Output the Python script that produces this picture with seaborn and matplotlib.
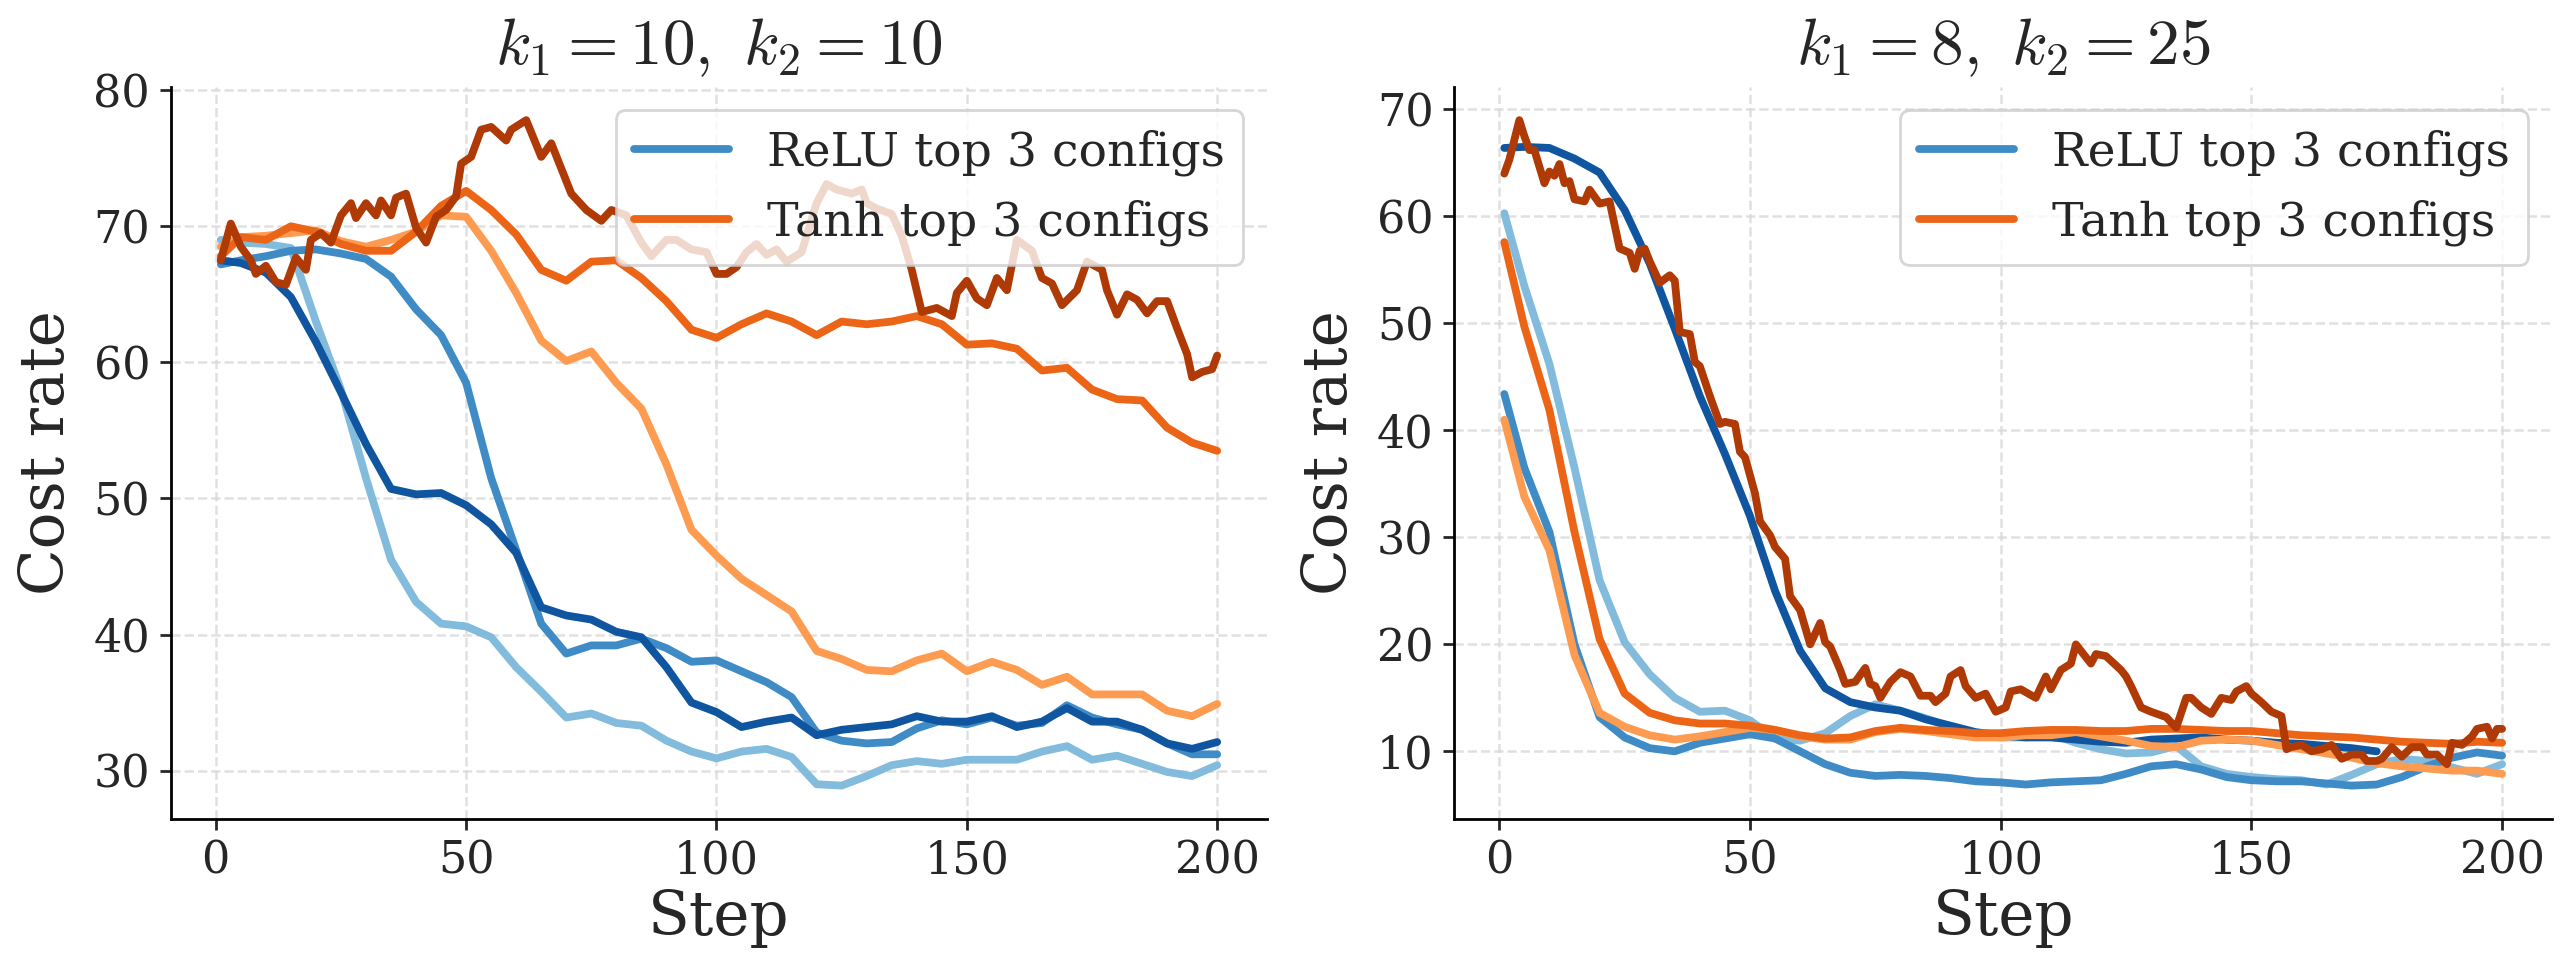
import matplotlib
matplotlib.use("Agg")
import matplotlib.pyplot as plt
from matplotlib.lines import Line2D
import seaborn as sns
import pandas as pd

# ---------------- data ----------------
steps = [1, 5, 10, 15, 20, 25, 30, 35, 40, 45, 50, 55, 60, 65, 70, 75, 80, 85, 90, 95, 100,
         105, 110, 115, 120, 125, 130, 135, 140, 145, 150, 155, 160, 165, 170, 175, 180, 185, 190, 195, 200]

# Panel 1: k1=10, k2=10
p1_relu_light = [69.0, 68.8, 68.7, 68.4, 63.0, 58.0, 51.5, 45.5, 42.4, 40.8, 40.6, 39.8, 37.6, 35.8, 33.9, 34.2, 33.5, 33.3, 32.2, 31.4, 30.9,
                 31.4, 31.6, 31.0, 29.0, 28.9, 29.6, 30.4, 30.7, 30.5, 30.8, 30.8, 30.8, 31.4, 31.8, 30.8, 31.1, 30.5, 29.9, 29.6, 30.4]
p1_relu_mid = [67.2, 67.5, 67.8, 68.2, 68.3, 68.0, 67.6, 66.3, 63.9, 62.0, 58.5, 51.5, 46.2, 40.8, 38.6, 39.2, 39.2, 39.7, 39.0, 38.0, 38.1,
               37.3, 36.5, 35.4, 32.8, 32.2, 32.0, 32.1, 33.1, 33.7, 33.4, 33.9, 33.3, 33.5, 34.8, 33.9, 33.4, 33.0, 32.0, 31.2, 31.2]
p1_relu_dark = [67.5, 67.3, 66.6, 64.8, 61.5, 57.8, 54.0, 50.7, 50.3, 50.4, 49.5, 48.1, 46.0, 42.0, 41.4, 41.1, 40.2, 39.8, 37.6, 35.0, 34.3,
                33.2, 33.6, 33.9, 32.6, 33.0, 33.2, 33.4, 34.0, 33.6, 33.6, 34.0, 33.2, 33.6, 34.6, 33.6, 33.6, 33.0, 32.0, 31.6, 32.1]
p1_tanh_light = [68.5, 69.2, 69.3, 69.5, 69.7, 68.9, 68.5, 69.0, 69.6, 70.8, 70.7, 68.2, 65.1, 61.6, 60.1, 60.8, 58.5, 56.6, 52.5, 47.7, 45.8,
                 44.1, 42.9, 41.7, 38.8, 38.2, 37.4, 37.3, 38.1, 38.6, 37.3, 38.0, 37.4, 36.3, 36.9, 35.6, 35.6, 35.6, 34.4, 34.0, 34.9]
p1_tanh_mid = [67.8, 69.2, 69.0, 70.0, 69.6, 68.7, 68.2, 68.2, 69.6, 71.5, 72.6, 71.2, 69.4, 66.8, 66.0, 67.4, 67.5, 66.2, 64.5, 62.4, 61.8,
               62.8, 63.6, 63.0, 62.0, 63.0, 62.8, 63.0, 63.4, 62.8, 61.3, 61.4, 61.0, 59.4, 59.6, 58.0, 57.3, 57.2, 55.2, 54.1, 53.5]
p1_tanh_dark_steps = [1, 3, 5, 7, 8, 10, 12, 14, 16, 18, 19, 21, 23, 25, 27, 28, 30, 32, 33, 35, 36, 38, 40, 42, 44, 46,
                      48, 49, 51, 53, 55, 58, 59, 62, 65, 67, 71, 74, 77, 79, 82, 85, 87, 90, 92, 95, 98, 100, 102, 104,
                      106, 108, 110, 112, 114, 117, 120, 122, 124, 127, 129, 130, 132, 135, 137, 139, 141, 144, 147, 148,
                      150, 152, 154, 156, 158, 160, 163, 165, 167, 169, 172, 174, 177, 178, 180, 182, 184, 186, 188, 190,
                      192, 194, 195, 197, 199, 200]
p1_tanh_dark = [67.5, 70.2, 68.5, 67.5, 66.5, 67.1, 65.9, 65.7, 67.7, 66.8, 69.0, 69.5, 68.8, 70.8, 71.7, 70.6, 71.7, 70.8, 71.9, 70.8,
                72.1, 72.4, 69.9, 68.8, 70.7, 71.2, 72.2, 74.6, 75.1, 77.1, 77.3, 76.3, 77.1, 77.8, 75.1, 76.1, 72.4, 71.2, 70.4, 71.2,
                70.8, 68.8, 67.8, 69.0, 69.0, 68.3, 68.1, 66.5, 66.5, 67.0, 68.1, 68.7, 67.9, 68.3, 67.4, 68.1, 71.7, 73.1, 72.7, 72.4,
                72.7, 71.7, 71.3, 70.9, 69.3, 66.8, 63.7, 64.0, 63.4, 65.1, 66.0, 64.7, 64.2, 66.2, 65.3, 69.0, 68.2, 66.2, 65.8, 64.2,
                65.3, 67.4, 66.8, 65.3, 63.5, 65.0, 64.6, 63.6, 64.5, 64.5, 62.5, 60.6, 58.9, 59.3, 59.5, 60.5]

# Panel 2: k1=8, k2=25
p2_relu_light = [60.3, 53.5, 46.2, 36.5, 26.0, 20.2, 17.2, 15.0, 13.7, 13.8, 12.9, 11.2, 11.0, 11.7, 13.3, 14.4, 13.8, 13.1, 12.3, 11.6, 11.3,
                 11.3, 11.6, 10.8, 10.2, 9.8, 9.9, 10.5, 8.6, 7.9, 7.6, 7.4, 7.3, 6.9, 7.8, 8.8, 9.3, 9.1, 8.5, 7.9, 8.8]
p2_relu_mid = [43.4, 36.5, 30.5, 20.0, 13.2, 11.3, 10.3, 10.0, 10.8, 11.2, 11.6, 11.2, 10.0, 8.8, 8.0, 7.7, 7.8, 7.7, 7.5, 7.2, 7.1,
               6.9, 7.1, 7.2, 7.3, 7.9, 8.6, 8.8, 8.3, 7.6, 7.3, 7.2, 7.2, 7.0, 6.8, 6.9, 7.6, 8.6, 9.4, 9.9, 9.6]
p2_relu_dark_steps = steps[:36]
p2_relu_dark = [66.4, 66.5, 66.4, 65.4, 64.1, 60.6, 55.6, 49.5, 43.2, 37.8, 32.0, 25.0, 19.4, 15.9, 14.6, 14.1, 13.8, 13.0, 12.4, 11.8, 11.5,
                11.3, 11.3, 11.1, 10.9, 10.8, 11.1, 11.2, 11.3, 11.1, 11.0, 10.8, 10.7, 10.5, 10.3, 10.0]
p2_tanh_light = [41.0, 33.8, 28.8, 19.0, 13.6, 12.3, 11.5, 11.1, 11.4, 11.8, 12.2, 12.0, 11.4, 11.1, 11.1, 11.8, 12.1, 11.9, 11.6, 11.3, 11.3,
                 11.5, 11.5, 11.8, 11.4, 11.0, 10.5, 10.4, 11.0, 11.1, 11.0, 10.6, 10.2, 9.8, 9.4, 8.9, 8.6, 8.4, 8.2, 8.2, 7.9]
p2_tanh_mid = [57.6, 49.7, 41.9, 30.5, 20.5, 15.4, 13.6, 12.9, 12.6, 12.6, 12.4, 12.0, 11.5, 11.2, 11.3, 11.9, 12.2, 12.0, 11.9, 11.7, 11.7,
               11.9, 12.0, 12.0, 11.9, 11.9, 12.1, 12.1, 12.0, 11.9, 11.9, 11.7, 11.5, 11.4, 11.3, 11.1, 10.9, 10.8, 10.7, 10.9, 10.8]
p2_tanh_dark_steps = [1, 2, 4, 5, 6, 7, 9, 10, 11, 12, 13, 14, 15, 17, 18, 20, 22, 24, 26, 27, 28, 29, 30, 32, 34, 35, 36, 38, 39,
                      40, 42, 44, 45, 47, 48, 49, 51, 52, 54, 55, 57, 58, 60, 62, 64, 65, 66, 68, 69, 71, 73, 74, 75, 76, 78,
                      80, 82, 84, 86, 87, 89, 90, 92, 93, 95, 97, 99, 101, 102, 104, 107, 109, 110, 112, 114, 115, 118, 119,
                      121, 124, 125, 126, 128, 130, 133, 135, 137, 138, 140, 142, 144, 146, 147, 149, 150, 152, 154, 156,
                      157, 158, 160, 162, 164, 166, 168, 170, 172, 173, 175, 176, 178, 180, 182, 184, 185, 187, 189, 190,
                      192, 194, 195, 197, 198, 199, 200]
p2_tanh_dark = [64.0, 65.3, 69.0, 67.5, 66.2, 66.2, 63.1, 64.2, 63.8, 64.9, 63.1, 63.3, 61.6, 61.4, 62.5, 61.2, 61.4, 57.0, 56.6,
                55.1, 56.8, 57.0, 55.8, 53.8, 54.5, 54.0, 49.2, 49.0, 46.4, 46.0, 43.2, 40.6, 40.8, 40.6, 38.0, 37.5, 34.1, 31.5,
                30.2, 29.1, 28.0, 24.5, 23.2, 20.0, 22.0, 20.2, 19.8, 17.6, 16.3, 16.5, 17.8, 16.3, 16.1, 15.0, 16.5, 17.4, 17.0,
                15.2, 15.2, 14.6, 15.4, 17.0, 17.6, 16.1, 15.0, 15.4, 13.7, 14.1, 15.6, 15.8, 15.0, 17.0, 15.8, 17.6, 18.2, 20.0,
                18.2, 19.1, 18.9, 17.6, 17.0, 16.1, 14.1, 13.7, 13.2, 12.2, 15.0, 15.0, 14.1, 13.5, 15.0, 14.8, 15.6, 16.1, 15.4,
                14.6, 13.7, 13.3, 10.2, 10.4, 10.6, 10.0, 10.2, 10.6, 9.3, 9.7, 9.7, 9.1, 9.1, 9.3, 10.4, 9.5, 10.4, 10.4, 9.7,
                9.7, 8.8, 10.8, 10.6, 11.4, 12.1, 12.3, 11.2, 12.1, 12.1]

titles = [r"$k_1 = 10,\ k_2 = 10$", r"$k_1 = 8,\ k_2 = 25$"]
legend_labels = ["ReLU top 3 configs", "Tanh top 3 configs"]
config_names = ["ReLU 1", "ReLU 2", "ReLU 3", "Tanh 1", "Tanh 2", "Tanh 3"]
colors = ["#82bbdb", "#3f8bc5", "#0f559f", "#fd9b50", "#ec6517", "#b03a06"]

panels = [
    [(steps, p1_relu_light), (steps, p1_relu_mid), (steps, p1_relu_dark),
     (steps, p1_tanh_light), (steps, p1_tanh_mid), (p1_tanh_dark_steps, p1_tanh_dark)],
    [(steps, p2_relu_light), (steps, p2_relu_mid), (p2_relu_dark_steps, p2_relu_dark),
     (steps, p2_tanh_light), (steps, p2_tanh_mid), (p2_tanh_dark_steps, p2_tanh_dark)],
]
yticks = [[30, 40, 50, 60, 70, 80], [10, 20, 30, 40, 50, 60, 70]]

# ---------------- style ----------------
sns.set_theme(style="ticks")
plt.rcParams["font.family"] = ["DejaVu Serif"]
plt.rcParams["mathtext.fontset"] = "cm"

fig = plt.figure(figsize=(12.855, 4.88), dpi=200)
ax_pos = [[0.0665, 0.161, 0.4263, 0.75], [0.5657, 0.161, 0.4269, 0.75]]
palette = dict(zip(config_names, colors))

for i, series in enumerate(panels):
    ax = fig.add_axes(ax_pos[i])
    rows = []
    for name, (xs, ys) in zip(config_names, series):
        for x, y in zip(xs, ys):
            rows.append({"Step": x, "Cost rate": y, "config": name})
    df = pd.DataFrame(rows)
    for name in config_names:
        sub = df[df["config"] == name]
        sns.lineplot(data=sub, x="Step", y="Cost rate", color=palette[name],
                     estimator=None, linewidth=2.8, ax=ax, legend=False)
    ax.set_title(titles[i], fontsize=23.5, pad=8)
    ax.set_xlabel("Step", fontsize=22, labelpad=2)
    ax.set_ylabel("Cost rate", fontsize=22, labelpad=6)
    ax.set_xticks([0, 50, 100, 150, 200])
    ax.set_yticks(yticks[i])
    ax.tick_params(labelsize=16, length=4, width=1)
    ax.grid(True, linestyle="--", linewidth=0.9, color="#d9d9d9", alpha=0.8)
    sns.despine(ax=ax)
    for s in ["left", "bottom"]:
        ax.spines[s].set_color("black")
        ax.spines[s].set_linewidth(1.0)
    handles = [Line2D([0], [0], color=colors[1], lw=2.8),
               Line2D([0], [0], color=colors[4], lw=2.8)]
    leg = ax.legend(handles, legend_labels, loc="upper right", fontsize=17,
                    frameon=True, framealpha=0.8, edgecolor="#cccccc", fancybox=True)

fig.savefig("out.png", dpi=200)
